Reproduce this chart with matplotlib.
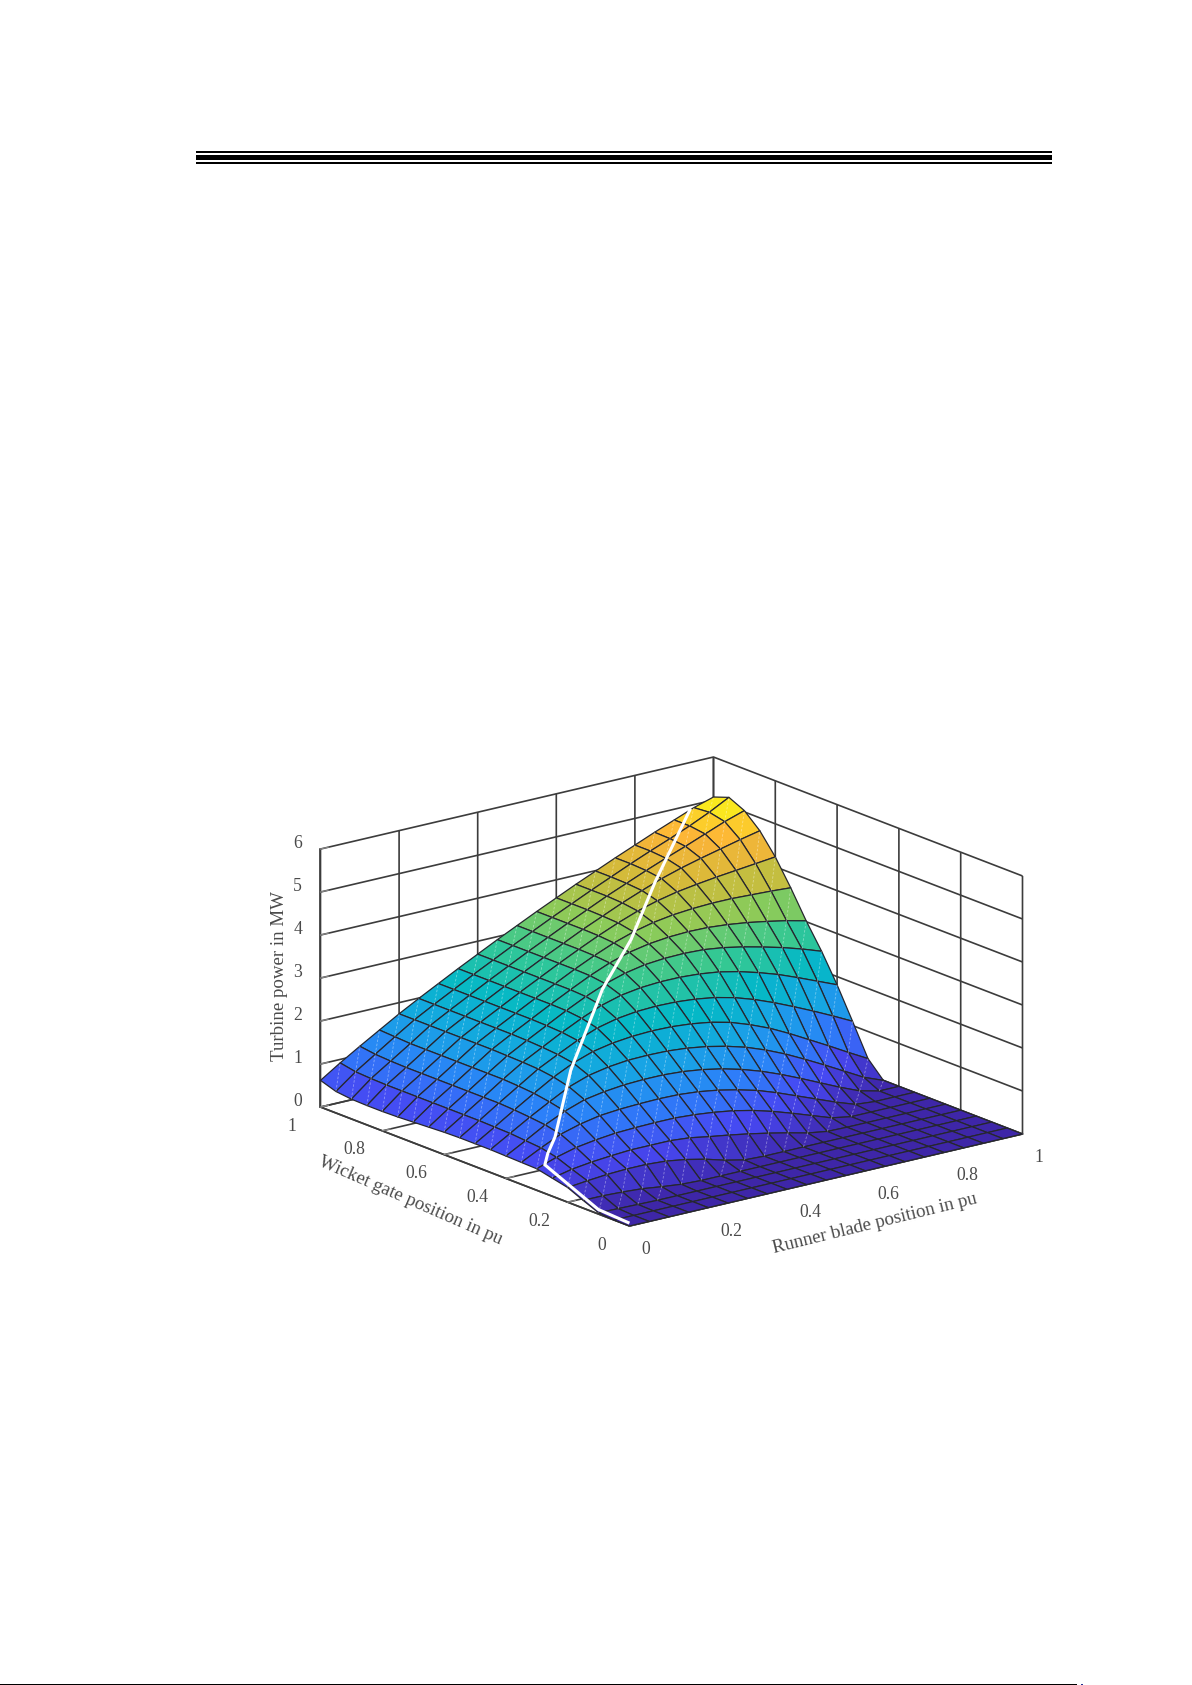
import matplotlib
matplotlib.use("Agg")
import matplotlib.pyplot as plt
import numpy as np
from matplotlib.colors import LinearSegmentedColormap
from matplotlib.patches import Rectangle
from mpl_toolkits.mplot3d import proj3d

plt.rcParams['font.family'] = ['Liberation Serif', 'DejaVu Serif']

# axes
runner_blade = [0.00, 0.05, 0.10, 0.15, 0.20, 0.25, 0.30, 0.35, 0.40, 0.45, 0.50,
                0.55, 0.60, 0.65, 0.70, 0.75, 0.80, 0.85, 0.90, 0.95, 1.00]
wicket_gate = [0.00, 0.05, 0.10, 0.15, 0.20, 0.25, 0.30, 0.35, 0.40, 0.45, 0.50,
               0.55, 0.60, 0.65, 0.70, 0.75, 0.80, 0.85, 0.90, 0.95, 1.00]

# turbine power in MW, one row per wicket gate position
p_y000 = [0] * 21
p_y005 = [0] * 21
p_y010 = [.03, .02, .01] + [0] * 18
p_y015 = [.18, .18, .16, .13, .07, .02] + [0] * 15
p_y020 = [.34, .39, .43, .45, .45, .42, .35, .25, .12, .02] + [0] * 11
p_y025 = [.42, .52, .58, .62, .65, .65, .65, .61, .53, .46, .38, .29, .19, .08, .01] + [0] * 6
p_y030 = [.50, .66, .78, .85, .90, .92, .93, .93, .90, .85, .78, .68, .55, .40, .24, .08, 0, 0, 0, 0, 0]
p_y035 = [.51, .74, .95, 1.08, 1.17, 1.21, 1.23, 1.24, 1.23, 1.19, 1.12, 1.02, .90, .74, .56, .38, .20, .04, 0, 0, 0]
p_y040 = [.52, .77, 1.03, 1.24, 1.40, 1.48, 1.53, 1.55, 1.55, 1.52, 1.46, 1.37, 1.25, 1.10, .92, .72, .51, .30, .11, 0, 0]
p_y045 = [.53, .80, 1.07, 1.32, 1.56, 1.72, 1.81, 1.86, 1.87, 1.86, 1.82, 1.75, 1.65, 1.52, 1.35, 1.15, .92, .68, .43, .18, 0]
p_y050 = [.53, .81, 1.10, 1.38, 1.65, 1.87, 2.03, 2.12, 2.17, 2.19, 2.18, 2.14, 2.07, 1.96, 1.80, 1.61, 1.38, 1.13, .88, .62, .37]
p_y055 = [.53, .82, 1.12, 1.41, 1.7, 1.93, 2.15, 2.33, 2.44, 2.50, 2.52, 2.51, 2.47, 2.40, 2.29, 2.14, 1.96, 1.76, 1.55, 1.33, 1.10]
p_y060 = [.52, .82, 1.12, 1.43, 1.72, 1.96, 2.2, 2.42, 2.61, 2.74, 2.81, 2.84, 2.84, 2.81, 2.75, 2.65, 2.52, 2.37, 2.19, 2.00, 1.81]
p_y065 = [.50, .82, 1.12, 1.43, 1.73, 1.98, 2.22, 2.46, 2.68, 2.87, 3.01, 3.10, 3.14, 3.15, 3.13, 3.07, 2.98, 2.87, 2.75, 2.61, 2.45]
p_y070 = [.48, .82, 1.12, 1.43, 1.74, 1.99, 2.23, 2.47, 2.7, 2.92, 3.11, 3.25, 3.34, 3.39, 3.41, 3.40, 3.36, 3.30, 3.22, 3.13, 3.02]
p_y075 = [.46, .82, 1.12, 1.43, 1.74, 1.99, 2.23, 2.47, 2.7, 2.93, 3.14, 3.33, 3.48, 3.59, 3.66, 3.70, 3.72, 3.72, 3.70, 3.68, 3.65]
p_y080 = [.45, .82, 1.12, 1.43, 1.74, 1.99, 2.23, 2.47, 2.70, 2.93, 3.15, 3.36, 3.55, 3.72, 3.85, 3.95, 4.02, 4.08, 4.13, 4.18, 4.23]
p_y085 = [.45, .82, 1.12, 1.43, 1.74, 1.99, 2.23, 2.47, 2.70, 2.93, 3.15, 3.37, 3.57, 3.77, 3.95, 4.12, 4.26, 4.38, 4.49, 4.60, 4.70]
p_y090 = [.46, .83, 1.13, 1.43, 1.74, 1.99, 2.23, 2.47, 2.70, 2.93, 3.15, 3.37, 3.58, 3.79, 3.98, 4.17, 4.35, 4.52, 4.70, 4.88, 5.03]
p_y095 = [.50, .85, 1.15, 1.45, 1.74, 1.99, 2.23, 2.47, 2.70, 2.93, 3.15, 3.37, 3.58, 3.79, 3.99, 4.19, 4.38, 4.56, 4.75, 4.96, 5.20]
p_y100 = [.62, .92, 1.20, 1.47, 1.74, 1.99, 2.23, 2.47, 2.70, 2.93, 3.15, 3.37, 3.58, 3.79, 3.99, 4.19, 4.38, 4.57, 4.75, 4.93, 5.07]

# white cam curve
cam_blade = [0.012, 0.015, 0.015, 0.028, 0.066, 0.22, 0.43, 0.57, 0.73, 0.94]
cam_gate = [0.02, 0.12, 0.293, 0.30, 0.325, 0.47, 0.634, 0.72, 0.845, 1.0]
cam_power = [0.0, 0.02, 0.58, 0.80, 1.03, 1.85, 2.84, 3.45, 4.11, 4.90]

x_ticks = [0, 0.2, 0.4, 0.6, 0.8, 1]
y_ticks = [0, 0.2, 0.4, 0.6, 0.8, 1]
z_ticks = [0, 1, 2, 3, 4, 5, 6]
tick_text = ['0', '0.2', '0.4', '0.6', '0.8', '1']

parula_colors = ['#3e26a8', '#4748f2', '#2c80f9', '#17a5e4', '#05b8c7', '#33c894',
                 '#8ccb59', '#d1bb3a', '#fdb338', '#f9fb15']

DARK = '#3c3c3c'
TEXT = '#4a4a4a'


def fit_box(fig, ax, left, right, front):
    # move and scale the axes so the floor corners land where they are in the picture
    h = fig.bbox.height
    for _ in range(3):
        M = ax.get_proj()
        pts = []
        for c in [(0, 1, 0), (1, 0, 0), (0, 0, 0)]:
            px, py, _z = proj3d.proj_transform(c[0], c[1], c[2], M)
            pts.append(ax.transData.transform((px, py)))
        pts = np.array(pts)
        want = np.array([left, right, front], dtype=float)
        want[:, 1] = h - want[:, 1]
        k = (want[1, 0] - want[0, 0]) / (pts[1, 0] - pts[0, 0])
        pos = ax.get_position()
        size = pos.width * fig.bbox.width * k
        cx = (pos.x0 + pos.width / 2) * fig.bbox.width
        cy = (pos.y0 + pos.height / 2) * h
        new_pts = (pts - [cx, cy]) * k + [cx, cy]
        cx += (want - new_pts)[:, 0].mean()
        cy += (want - new_pts)[:, 1].mean()
        ax.set_position([(cx - size / 2) / fig.bbox.width, (cy - size / 2) / h,
                         size / fig.bbox.width, size / h])
        ax.apply_aspect()


def floor_text(ax, x, y, s, **kw):
    # text next to the box, given by its spot on the floor plane
    px, py, _z = proj3d.proj_transform(x, y, 0, ax.get_proj())
    ax.text2D(px, py, s, transform=ax.transData, color=TEXT, ha='center', va='center',
              rotation_mode='anchor', **kw)


def main():
    X, Y = np.meshgrid(runner_blade, wicket_gate)
    Z = np.array([p_y000, p_y005, p_y010, p_y015, p_y020, p_y025, p_y030, p_y035, p_y040, p_y045, p_y050,
                  p_y055, p_y060, p_y065, p_y070, p_y075, p_y080, p_y085, p_y090, p_y095, p_y100])

    fig = plt.figure(figsize=(11.92, 16.85), dpi=100)
    ax = fig.add_axes([0.1, 0.2, 0.8, 0.8 * 1192 / 1685], projection='3d', proj_type='ortho')
    ax.computed_zorder = False
    ax.patch.set_alpha(0)
    ax.view_init(elev=17.47, azim=-127.95)
    ax.set_box_aspect((498.4, 502.5, 270.5))
    ax.set_xlim(0, 1, view_margin=0)
    ax.set_ylim(0, 1, view_margin=0)
    ax.set_zlim(0, 6, view_margin=0)

    cmap = LinearSegmentedColormap.from_list('parula_like', parula_colors)
    ax.plot_surface(X, Y, Z, rstride=1, cstride=1, cmap=cmap, vmin=0, vmax=5.2, shade=False,
                    edgecolor='#26262e', linewidth=0.9, antialiased=True, zorder=1)

    # the faint seams across each cell
    sx, sy, sz = [], [], []
    for i in range(20):
        for j in range(20):
            if Z[i:i + 2, j:j + 2].mean() > 0.03:
                sx += [X[i, j], X[i + 1, j + 1], np.nan]
                sy += [Y[i, j], Y[i + 1, j + 1], np.nan]
                sz += [Z[i, j], Z[i + 1, j + 1], np.nan]
    ax.plot(sx, sy, sz, color='white', alpha=0.4, lw=0.6, ls=(0, (3, 2)), zorder=2)

    ax.plot(cam_blade, cam_gate, cam_power, color='white', lw=2.2, zorder=3, solid_joinstyle='miter')

    ax.set_xticks(x_ticks, tick_text)
    ax.set_yticks(y_ticks, [''] * len(y_ticks))
    ax.set_zticks(z_ticks)
    ax.tick_params(axis='x', labelsize=12.7, labelcolor=TEXT, color='#8a8a8a', pad=3)
    ax.tick_params(axis='y', color='#8a8a8a')
    ax.tick_params(axis='z', labelsize=12.7, labelcolor=TEXT, color='#8a8a8a', pad=1)
    ax.zaxis.set_ticks_position('upper')
    ax.zaxis.set_label_position('upper')
    for t in ax.get_xticklabels():
        t.set_ha('left')
    for t in ax.get_zticklabels():
        t.set_va('baseline')
    ax.set_zlabel('Turbine power in MW', fontsize=13.6, color=TEXT, labelpad=-5)

    for axis in [ax.xaxis, ax.yaxis, ax.zaxis]:
        axis.set_pane_color((1, 1, 1, 0))
        axis.pane.set_edgecolor(DARK)
        axis.line.set_color(DARK)
        axis.line.set_linewidth(1.2)
        axis._axinfo['grid'].update(color=DARK, linewidth=1.2)
        axis._axinfo['tick'].update(inward_factor=0.0, outward_factor=0.25)

    fit_box(fig, ax, (320.5, 1107), (1022.5, 1134), (629.5, 1226))

    # the floor labels sit lower than the tick direction allows
    for v, t in zip(y_ticks, tick_text):
        floor_text(ax, -0.123, v - 0.065, t, fontsize=12.7)
    floor_text(ax, -0.243, 0.399, 'Wicket gate position in pu', fontsize=13.6, rotation=-23.5)
    floor_text(ax, 0.398, -0.288, 'Runner blade position in pu', fontsize=13.6, rotation=13.8)

    # page rules of the scanned sheet, in pixels
    def page_rule(x0, x1, y0, y1, color='black'):
        fig.add_artist(Rectangle((x0 / 1192, 1 - y1 / 1685), (x1 - x0) / 1192, (y1 - y0) / 1685,
                                 transform=fig.transFigure, color=color, lw=0))
    page_rule(195.5, 1052, 151, 153.2)
    page_rule(195.5, 1052, 155, 159.8)
    page_rule(195.5, 1052, 161.7, 164)
    page_rule(0, 1077, 1683.5, 1685)
    page_rule(1081, 1083, 1684, 1685, color='#1f2f90')

    fig.savefig('out.png', dpi=100)


if __name__ == "__main__":
    main()
